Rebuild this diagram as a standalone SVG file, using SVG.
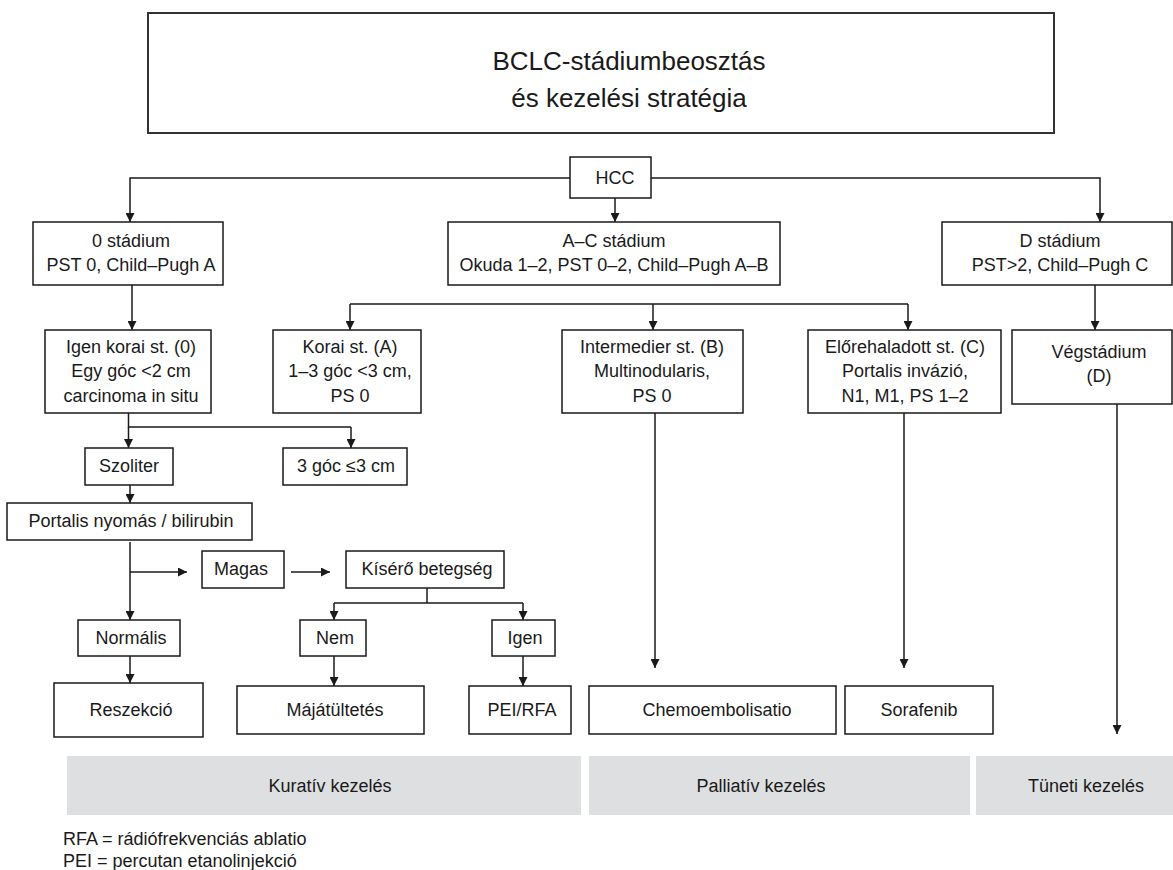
<svg xmlns="http://www.w3.org/2000/svg" width="1173" height="870" viewBox="0 0 1173 870">
<defs>
<marker id="ah" viewBox="0 0 10 10" refX="10" refY="5" markerWidth="10" markerHeight="9" markerUnits="userSpaceOnUse" orient="auto"><path d="M0,0 L10,5 L0,10 z" fill="#1a1a1a"/></marker>
<style>
.b{fill:#fff;stroke:#1a1a1a;stroke-width:1.5}
.t{font-family:"Liberation Sans",Arial,sans-serif;font-size:18px;fill:#1a1a1a;text-anchor:middle}
.tl{font-family:"Liberation Sans",Arial,sans-serif;font-size:18px;fill:#1a1a1a}
.g{fill:#dedfe1}
.c{fill:none;stroke:#1a1a1a;stroke-width:1.5}
.a{marker-end:url(#ah)}
</style>
</defs>
<rect width="1173" height="870" fill="#fff"/>

<g id="title">
<rect x="148" y="13" width="906" height="120" fill="#fff" stroke="#333" stroke-width="2"/>
<text class="t" x="629" y="70" style="font-size:26px">BCLC-stádiumbeosztás</text>
<text class="t" x="629" y="107" style="font-size:26px">és kezelési stratégia</text>
</g>

<g id="connectors">
<path class="c a" d="M570,178 H130 V222"/>
<path class="c a" d="M651,178 H1100 V222"/>
<path class="c a" d="M615,198 V222"/>
<path class="c a" d="M132,285 V330"/>
<path class="c" d="M350,304 H908"/>
<path class="c a" d="M350,304 V330"/>
<path class="c a" d="M653,304 V330"/>
<path class="c a" d="M908,304 V330"/>
<path class="c a" d="M1095,285 V330"/>
<path class="c" d="M128.5,413 V427 H351"/>
<path class="c a" d="M128.5,427 V448"/>
<path class="c a" d="M351,427 V448"/>
<path class="c a" d="M130,485 V503"/>
<path class="c a" d="M130,542 V620"/>
<path class="c a" d="M130,572 H187"/>
<path class="c a" d="M291,572 H330"/>
<path class="c" d="M427,588 V603"/>
<path class="c" d="M334,603 H523"/>
<path class="c a" d="M334,603 V620"/>
<path class="c a" d="M523,603 V620"/>
<path class="c a" d="M130,656 V683"/>
<path class="c a" d="M334,656 V686"/>
<path class="c a" d="M523,656 V686"/>
<path class="c a" d="M655,413 V668"/>
<path class="c a" d="M904,413 V668"/>
<path class="c a" d="M1117,404 V734"/>
</g>

<g id="hcc"><rect class="b" x="570" y="157" width="81" height="41"/><text class="t" x="615" y="184">HCC</text></g>

<g id="stage0"><rect class="b" x="33" y="222" width="190" height="63"/>
<text class="t" x="131" y="247">0 stádium</text><text class="t" x="131" y="271">PST 0, Child–Pugh A</text></g>

<g id="stageAC"><rect class="b" x="448" y="222" width="332" height="63"/>
<text class="t" x="614" y="247">A–C stádium</text><text class="t" x="614" y="271">Okuda 1–2, PST 0–2, Child–Pugh A–B</text></g>

<g id="stageD"><rect class="b" x="942" y="222" width="230" height="63"/>
<text class="t" x="1060" y="247">D stádium</text><text class="t" x="1060" y="271">PST&gt;2, Child–Pugh C</text></g>

<g id="verykorai"><rect class="b" x="45" y="330" width="166" height="83"/>
<text class="t" x="131" y="353">Igen korai st. (0)</text><text class="t" x="131" y="377">Egy góc &lt;2 cm</text><text class="t" x="131" y="402">carcinoma in situ</text></g>

<g id="korai"><rect class="b" x="273" y="330" width="148" height="83"/>
<text class="t" x="350" y="353">Korai st. (A)</text><text class="t" x="350" y="377">1–3 góc &lt;3 cm,</text><text class="t" x="350" y="402">PS 0</text></g>

<g id="intermedier"><rect class="b" x="562" y="330" width="181" height="83"/>
<text class="t" x="652" y="353">Intermedier st. (B)</text><text class="t" x="652" y="377">Multinodularis,</text><text class="t" x="652" y="402">PS 0</text></g>

<g id="elorehaladott"><rect class="b" x="808" y="330" width="193" height="83"/>
<text class="t" x="905" y="353">Előrehaladott st. (C)</text><text class="t" x="905" y="377">Portalis invázió,</text><text class="t" x="905" y="402">N1, M1, PS 1–2</text></g>

<g id="vegstadium"><rect class="b" x="1012" y="330" width="160" height="74"/>
<text class="t" x="1099" y="358">Végstádium</text><text class="t" x="1099" y="382">(D)</text></g>

<g id="szoliter"><rect class="b" x="85" y="448" width="88" height="37"/><text class="t" x="129" y="472">Szoliter</text></g>
<g id="harom"><rect class="b" x="283" y="448" width="124" height="37"/><text class="t" x="346" y="472">3 góc ≤3 cm</text></g>
<g id="portalis"><rect class="b" x="7" y="503" width="245" height="37"/><text class="t" x="131" y="527">Portalis nyomás / bilirubin</text></g>
<g id="magas"><rect class="b" x="202" y="551" width="82" height="37"/><text class="t" x="241" y="575">Magas</text></g>
<g id="kisero"><rect class="b" x="346" y="551" width="158" height="37"/><text class="t" x="427" y="575">Kísérő betegség</text></g>
<g id="normalis"><rect class="b" x="78" y="620" width="102" height="36"/><text class="t" x="131" y="644">Normális</text></g>
<g id="nem"><rect class="b" x="300" y="620" width="66" height="36"/><text class="t" x="335" y="644">Nem</text></g>
<g id="igen"><rect class="b" x="492" y="620" width="63" height="36"/><text class="t" x="525" y="644">Igen</text></g>

<g id="reszekcio"><rect class="b" x="54" y="683" width="149" height="54"/><text class="t" x="131" y="716">Reszekció</text></g>
<g id="majatultetes"><rect class="b" x="237" y="686" width="187" height="48"/><text class="t" x="335" y="716">Májátültetés</text></g>
<g id="peirfa"><rect class="b" x="469" y="686" width="102" height="48"/><text class="t" x="522" y="716">PEI/RFA</text></g>
<g id="chemo"><rect class="b" x="589" y="686" width="247" height="48"/><text class="t" x="717" y="716">Chemoembolisatio</text></g>
<g id="sorafenib"><rect class="b" x="845" y="686" width="148" height="48"/><text class="t" x="919" y="716">Sorafenib</text></g>

<g id="kurativ"><rect class="g" x="67" y="756" width="514" height="59"/><text class="t" x="330" y="792">Kuratív kezelés</text></g>
<g id="palliativ"><rect class="g" x="589" y="756" width="381" height="59"/><text class="t" x="761" y="792">Palliatív kezelés</text></g>
<g id="tuneti"><rect class="g" x="976" y="756" width="197" height="59"/><text class="t" x="1086" y="792">Tüneti kezelés</text></g>

<g id="legend">
<text class="tl" x="63" y="845">RFA = rádiófrekvenciás ablatio</text>
<text class="tl" x="63" y="867">PEI = percutan etanolinjekció</text>
</g>
</svg>
